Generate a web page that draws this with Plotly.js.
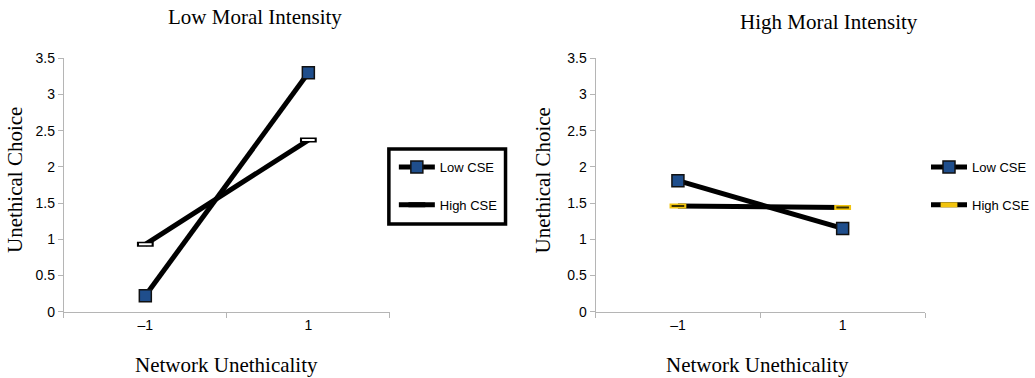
<!DOCTYPE html>
<html>
<head>
<meta charset="utf-8">
<script src="https://cdn.plot.ly/plotly-3.0.1.min.js"></script>
<style>html,body{margin:0;padding:0;background:#fff;}#chart{width:1035px;height:378px;}</style>
</head>
<body>
<div id="chart"></div>
<script>
// ---- data ----
const categories = ['\u20131', '1'];
const lowIntensityLowCSE = [0.22, 3.30];
const lowIntensityHighCSE = [0.93, 2.37];
const highIntensityLowCSE = [1.81, 1.15];
const highIntensityHighCSE = [1.46, 1.44];
const seriesNames = ['Low CSE', 'High CSE'];
const panelTitles = ['Low Moral Intensity', 'High Moral Intensity'];
const xTitle = 'Network Unethicality';
const yTitle = 'Unethical Choice';

const W = 1035, H = 378;
const px = v => v / W;
const py = v => 1 - v / H;

const blue = '#1f4e8c';
const yellow = '#f2c40f';

function lowTrace(y, xa, ya, legend) {
  return {
    x: categories, y: y, xaxis: xa, yaxis: ya, legend: legend, legendrank: 1,
    name: seriesNames[0], legendgroup: legend + 'a', mode: 'lines+markers',
    line: {color: '#000', width: 5},
    marker: {symbol: 'square', size: 12, color: blue, line: {color: '#111', width: 1.5}}
  };
}
function highTrace(y, xa, ya, legend, edge) {
  return {
    x: categories, y: y, xaxis: xa, yaxis: ya, legend: legend, legendrank: 2,
    name: seriesNames[1], legendgroup: legend + 'b', mode: 'lines+markers',
    line: {color: '#000', width: 5},
    marker: {symbol: 'line-ew', size: 12, color: edge, line: {color: edge, width: 5}}
  };
}
function highInner(y, xa, ya, inner) {
  return {
    x: categories, y: y, xaxis: xa, yaxis: ya, showlegend: false, mode: 'markers',
    hoverinfo: 'skip',
    marker: {symbol: 'line-ew', size: 9, color: inner, line: {color: inner, width: 2}}
  };
}

const data = [
  highTrace(lowIntensityHighCSE, 'x', 'y', 'legend', '#000'),
  highInner(lowIntensityHighCSE, 'x', 'y', '#ffffff'),
  lowTrace(lowIntensityLowCSE, 'x', 'y', 'legend'),
  highTrace(highIntensityHighCSE, 'x2', 'y2', 'legend2', yellow),
  highInner(highIntensityHighCSE, 'x2', 'y2', '#3b3300'),
  lowTrace(highIntensityLowCSE, 'x2', 'y2', 'legend2')
];

const axisCommon = {
  showline: true, linecolor: '#b5b5b5', linewidth: 1,
  ticks: 'outside', ticklen: 5, tickcolor: '#b5b5b5',
  showgrid: false, zeroline: false, fixedrange: true,
  tickfont: {family: 'Liberation Sans, Arial, sans-serif', size: 14, color: '#000'}
};
const xAxis = (dom, anchor) => Object.assign({}, axisCommon, {
  domain: dom, anchor: anchor, type: 'category', categoryorder: 'array',
  categoryarray: categories, range: [-0.5, 1.5], tickson: 'boundaries'
});
const yAxis = (anchor) => Object.assign({}, axisCommon, {
  domain: [py(311.7), py(58.3)], anchor: anchor, range: [0, 3.5], dtick: 0.5
});

const serif = {family: 'Liberation Serif, Times New Roman, serif', size: 21, color: '#000'};
const ann = (x, y, text, font, angle) => ({
  xref: 'paper', yref: 'paper', x: px(x), y: py(y), text: text, showarrow: false,
  xanchor: 'center', yanchor: 'middle', font: font, textangle: angle || 0
});

const legendCommon = {
  font: {family: 'Liberation Sans, Arial, sans-serif', size: 13, color: '#000'},
  bgcolor: 'rgba(0,0,0,0)', borderwidth: 0, traceorder: 'grouped', tracegroupgap: 18,
  itemwidth: 36, xanchor: 'left', yanchor: 'top'
};

const layout = {
  width: W, height: H, margin: {l: 0, r: 0, t: 0, b: 0},
  paper_bgcolor: '#fff', plot_bgcolor: '#fff',
  showlegend: true,
  xaxis: xAxis([px(64), px(391)], 'y'),
  yaxis: yAxis('x'),
  xaxis2: xAxis([px(597.3), px(927.7)], 'y2'),
  yaxis2: yAxis('x2'),
  legend: Object.assign({}, legendCommon, {x: px(395), y: py(152)}),
  legend2: Object.assign({}, legendCommon, {x: px(929), y: py(152)}),
  shapes: [{
    type: 'rect', xref: 'paper', yref: 'paper',
    x0: px(390), x1: px(507), y0: py(224), y1: py(149),
    line: {color: '#000', width: 3.5}, fillcolor: 'rgba(0,0,0,0)', layer: 'below'
  }],
  annotations: [
    ann(256, 17, panelTitles[0], serif),
    ann(831.7, 21.7, panelTitles[1], serif),
    ann(227, 365, xTitle, serif),
    ann(760, 365, xTitle, serif),
    ann(15, 180, yTitle, serif, -90),
    ann(545, 180, yTitle, serif, -90)
  ]
};

Plotly.newPlot('chart', data, layout, {displayModeBar: false, staticPlot: true});
</script>
</body>
</html>
